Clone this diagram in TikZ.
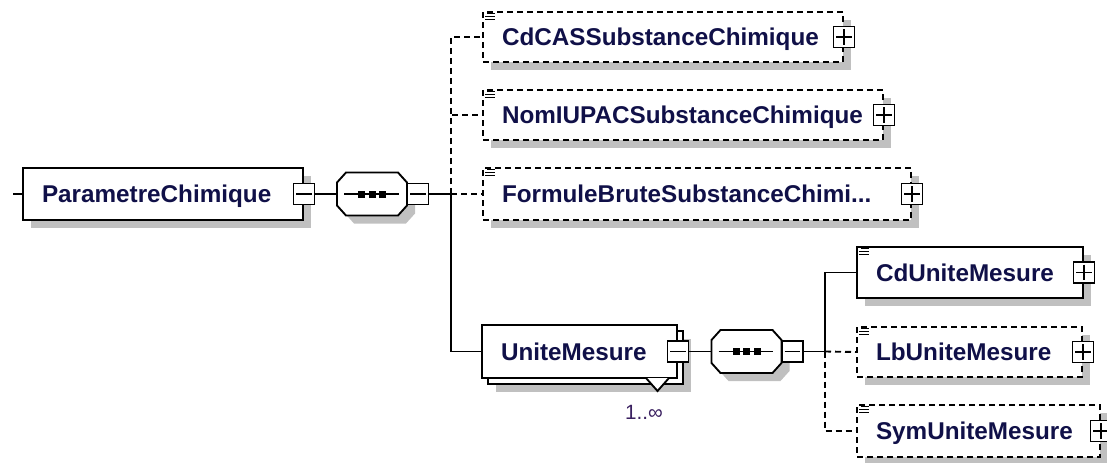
\documentclass[tikz,border=0pt]{standalone}
\usepackage{fontspec}
\setmainfont{Liberation Sans}
\usetikzlibrary{calc}

\definecolor{shadowgrey}{RGB}{192,192,192}
\definecolor{namecol}{RGB}{16,16,72}
\definecolor{cardcol}{RGB}{58,32,96}

% grey drop shadow of a box given by its corners (px)
\newcommand\boxshadow[4]{%
  \fill[shadowgrey] ({#1+8},{#2+8}) rectangle ({#3+8},{#4+8});}

% element box: name, x1, y1, x2, y2, border style, label
\newcommand\elembox[7]{%
  \node[boxshape,#6,minimum width={(#4-#2)*0.75pt},minimum height={(#5-#3)*0.75pt}]
    (#1) at ({(#2+#4)/2},{(#3+#5)/2}) {};
  \node[nametext] (#1-label) at ($(#1.west)+(19,8.5)$) {#7};}

% collapse / expand buttons
\newcommand\minusbox[2]{%
  \node[signshape] (#1) at (#2) {};
  \draw[signline] ($(#1.west)+(3.5,0)$) -- ($(#1.east)+(-3.5,0)$);}
\newcommand\plusbox[2]{%
  \minusbox{#1}{#2}
  \draw[signline] ($(#1.north)+(0,3.5)$) -- ($(#1.south)+(0,-3.5)$);}

% the small "simple content" mark in the top left corner of a box
\newcommand\typeicon[1]{%
  \draw[iconline] ($(#1.north west)+(5,2.5)$) -- ++(8,0);
  \draw[iconline] ($(#1.north west)+(3,5.5)$) -- ++(10,0);
  \draw[iconline] ($(#1.north west)+(3,8.5)$) -- ++(10,0);}

% octagon of a sequence compositor, centred at (#1,#2)
\newcommand\octpath[2]{({#1-35},{#2-11.5}) -- ({#1-26},{#2-21.5}) -- ({#1+26},{#2-21.5})
  -- ({#1+35},{#2-11.5}) -- ({#1+35},{#2+11.5}) -- ({#1+26},{#2+21.5})
  -- ({#1-26},{#2+21.5}) -- ({#1-35},{#2+11.5}) -- cycle}

% sequence compositor: name, cx, cy
\newcommand\seqgroup[3]{%
  \fill[shadowgrey] \octpath{#2+8}{#3+8};
  \node[inner sep=0,minimum width=52.5pt,minimum height=32.25pt] (#1) at (#2,#3) {};
  \draw[fill=white] \octpath{#2}{#3};
  \draw ($(#1.west)+(8,0)$) -- ($(#1.east)+(-9,0)$);
  \foreach \dx in {-10.5,0,10.5}
    \fill ($(#1.center)+({\dx-3.5},-3.5)$) rectangle ++(7,7);
  \minusbox{#1-sign}{{#2+46},#3}}

\begin{document}
\begin{tikzpicture}[x=0.75pt,y=-0.75pt,line width=1.4pt,
  boxshape/.style={draw,fill=white,inner sep=0pt,line width=1.4pt},
  optional/.style={dash pattern=on 4.5pt off 3pt},
  nametext/.style={anchor=base west,inner sep=0pt,text=namecol,
    font=\fontsize{18.2}{20}\selectfont\bfseries},
  signshape/.style={draw,solid,fill=white,minimum size=15.75pt,inner sep=0pt,line width=1.3pt},
  signline/.style={solid,line width=1.3pt},
  iconline/.style={solid,line width=1pt},
  cardtext/.style={text=cardcol,inner sep=0pt,font=\fontsize{15.5}{17}\selectfont}]
\useasboundingbox (0,0) rectangle (1107,462);

% ---------- root element ----------
\boxshadow{23}{168}{303}{220}
\elembox{pc}{23}{168}{303}{220}{solid}{ParametreChimique}
\minusbox{pc-sign}{pc.east}
\coordinate (in) at (13,194);

% ---------- first sequence ----------
\seqgroup{seqA}{372}{194}
\coordinate (jA) at (451,194);

% ---------- children of the first sequence ----------
\boxshadow{483}{12}{843}{62}
\elembox{cdcas}{483}{12}{843}{62}{optional}{CdCASSubstanceChimique}
\typeicon{cdcas}
\plusbox{cdcas-sign}{cdcas.east}

\boxshadow{483}{90}{883}{140}
\elembox{nomiupac}{483}{90}{883}{140}{optional}{NomIUPACSubstanceChimique}
\typeicon{nomiupac}
\plusbox{nomiupac-sign}{nomiupac.east}

\boxshadow{483}{168}{911}{220}
\elembox{formule}{483}{168}{911}{220}{optional}{FormuleBruteSubstanceChimi...}
\typeicon{formule}
\plusbox{formule-sign}{formule.east}

% UniteMesure repeats: a second frame behind the front one
\boxshadow{488}{331}{683}{384}
\draw[boxshape] (488,331) rectangle (683,384);
\elembox{unite}{482}{325}{677}{378}{solid}{UniteMesure}
\minusbox{unite-sign}{unite.east}
\draw[fill=white] (646,378) -- (657.5,391) -- (669,378);
\node[cardtext] (unite-card) at (644,412) {1..∞};

% ---------- second sequence ----------
\seqgroup{seqB}{746.5}{351.5}
\coordinate (jB) at (825,351.5);

\boxshadow{857}{247}{1083}{298}
\elembox{cdunite}{857}{247}{1083}{298}{solid}{CdUniteMesure}
\typeicon{cdunite}
\plusbox{cdunite-sign}{cdunite.east}

\boxshadow{857}{327}{1082}{377}
\elembox{lbunite}{857}{327}{1082}{377}{optional}{LbUniteMesure}
\typeicon{lbunite}
\plusbox{lbunite-sign}{lbunite.east}

\boxshadow{857}{405}{1100}{457}
\elembox{symunite}{857}{405}{1100}{457}{optional}{SymUniteMesure}
\typeicon{symunite}
\plusbox{symunite-sign}{symunite.east}

% ---------- connectors ----------
\draw (in) -- (pc.west);
\draw (pc-sign) -- (seqA);
\draw (seqA-sign.east) -- (jA);
\draw[optional] (jA) |- (cdcas.west);
\draw[optional] (jA) |- (nomiupac.west);
\draw[optional] (jA) -- (formule.west);
\draw (jA) |- (unite.west);

\draw (unite-sign) -- (seqB);
\draw (seqB-sign.east) -- (jB);
\draw (jB) |- (cdunite.west);
\draw[optional] (jB) -- (lbunite.west);
\draw[optional] (jB) |- (symunite.west);
\end{tikzpicture}
\end{document}
